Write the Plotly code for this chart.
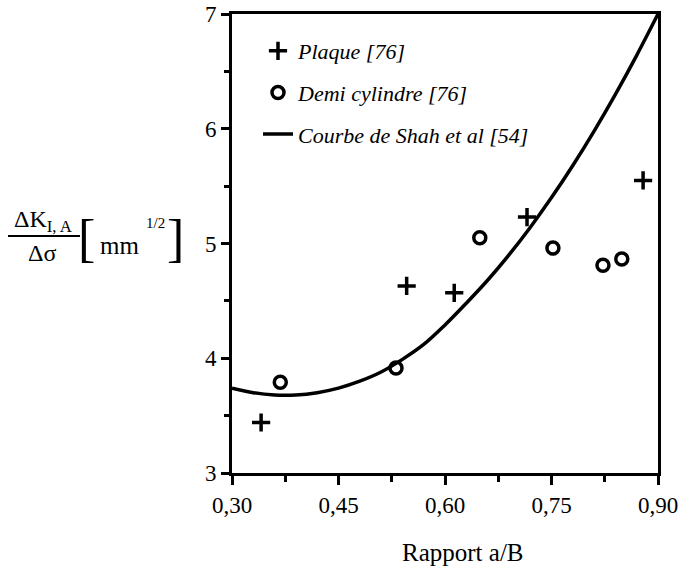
import plotly.graph_objects as go

# ---- data ----
plaque_x = [0.341, 0.546, 0.613, 0.7155, 0.879]
plaque_y = [3.44, 4.63, 4.57, 5.23, 5.55]

demi_x = [0.368, 0.531, 0.649, 0.752, 0.8225, 0.849]
demi_y = [3.79, 3.915, 5.05, 4.96, 4.81, 4.865]

shah_x = [0.30, 0.33, 0.36, 0.39, 0.42, 0.45, 0.48, 0.51, 0.54, 0.57, 0.60,
          0.63, 0.66, 0.69, 0.72, 0.75, 0.78, 0.81, 0.84, 0.87, 0.90]
shah_y = [3.74, 3.70, 3.68, 3.68, 3.70, 3.74, 3.80, 3.88, 3.99, 4.12, 4.29,
          4.48, 4.68, 4.90, 5.14, 5.40, 5.68, 5.98, 6.30, 6.64, 7.00]

x_tickvals = [0.30, 0.45, 0.60, 0.75, 0.90]
x_ticktext = ["0,30", "0,45", "0,60", "0,75", "0,90"]
y_tickvals = [3, 4, 5, 6, 7]
y_ticktext = ["3", "4", "5", "6", "7"]

W, H = 681, 580
L, R, T, B = 232, 23, 14, 107
PW, PH = W - L - R, H - T - B
FONT = "Liberation Serif, Times New Roman, serif"


def px(xp):
    return (xp - L) / PW


def py(yp):
    return (H - B - yp) / PH


fig = go.Figure()
fig.add_trace(go.Scatter(
    x=plaque_x, y=plaque_y, mode="markers", name="Plaque [76]",
    legendgroup="a",
    marker=dict(symbol="cross-thin", size=13, color="black",
                line=dict(color="black", width=3.5)),
))
fig.add_trace(go.Scatter(
    x=demi_x, y=demi_y, mode="markers", name="Demi cylindre [76]",
    legendgroup="b",
    marker=dict(symbol="circle-open", size=12, color="black",
                line=dict(color="black", width=3.5)),
))
fig.add_trace(go.Scatter(
    x=shah_x, y=shah_y, mode="lines", name="Courbe de Shah et al [54]",
    legendgroup="c",
    line=dict(color="black", width=3.5, shape="spline"),
))

axis_common = dict(
    showline=True, linecolor="black", linewidth=3, mirror=True,
    showgrid=False, zeroline=False, ticks="outside", tickcolor="black",
    tickwidth=3, tickfont=dict(family=FONT, size=23, color="black"),
    automargin=False, ticklabeloverflow="allow",
)

fig.update_xaxes(
    range=[0.30, 0.90], tickvals=x_tickvals, ticktext=x_ticktext, ticklen=9,
    minor=dict(dtick=0.075, tick0=0.30, ticks="outside", ticklen=6,
               tickwidth=3, tickcolor="black"),
    **axis_common,
)
fig.update_yaxes(
    range=[3, 7], tickvals=y_tickvals, ticktext=y_ticktext, ticklen=8,
    minor=dict(dtick=0.5, tick0=3, ticks="outside", ticklen=5,
               tickwidth=3, tickcolor="black"),
    **axis_common,
)

A = dict(xref="paper", yref="paper", showarrow=False,
         xanchor="center", yanchor="middle")
annotations = [
    dict(text="Rapport a/B", x=px(463), y=py(552),
         font=dict(family=FONT, size=25, color="black"), **A),
    dict(text="ΔK<sub>I, A</sub>", x=px(43), y=py(221),
         font=dict(family=FONT, size=24, color="black"), **A),
    dict(text="Δσ", x=px(42), y=py(253),
         font=dict(family=FONT, size=24, color="black"), **A),
    dict(text="[", x=px(86), y=py(238),
         font=dict(family=FONT, size=52, color="black"), **A),
    dict(text="mm", x=px(119), y=py(245),
         font=dict(family=FONT, size=25, color="black"), **A),
    dict(text="1/2", x=px(155), y=py(223),
         font=dict(family=FONT, size=15, color="black"), **A),
    dict(text="]", x=px(175), y=py(238),
         font=dict(family=FONT, size=52, color="black"), **A),
]

shapes = [
    dict(type="line", xref="paper", yref="paper", x0=px(8), x1=px(80),
         y0=py(236), y1=py(236), line=dict(color="black", width=2)),
]

fig.update_layout(
    width=W, height=H,
    margin=dict(l=L, r=R, t=T, b=B, pad=0, autoexpand=False),
    paper_bgcolor="white", plot_bgcolor="white",
    font=dict(family=FONT, size=22, color="black"),
    showlegend=True,
    legend=dict(
        x=px(258), y=py(30), xanchor="left", yanchor="top",
        bgcolor="rgba(0,0,0,0)", borderwidth=0,
        font=dict(family=FONT, size=22, color="black", style="italic"),
        traceorder="grouped", tracegroupgap=10,
    ),
    annotations=annotations,
    shapes=shapes,
)

fig.write_html(
    "out.html",
    config={"displayModeBar": False},
    post_script="document.body.style.margin='0';document.body.style.overflow='hidden';",
)
